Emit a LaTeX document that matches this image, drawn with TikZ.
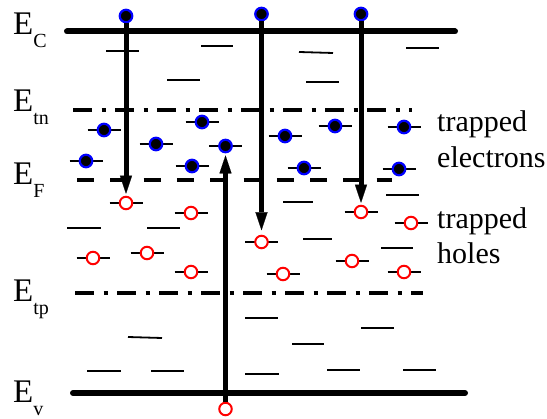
\documentclass[tikz,border=0pt]{standalone}
\usepackage{fontspec}
\setmainfont{Liberation Serif}
\newfontfamily\tnr{Liberation Serif}
\usetikzlibrary{arrows.meta}
\newcommand\bsub[1]{\raisebox{-13pt}{\fontsize{20}{20}\selectfont #1}}
\begin{document}
\begin{tikzpicture}[x=1pt,y=-1pt,
 band/.style={line width=6pt,line cap=round},
 tnline/.style={line width=4pt,dash pattern=on 19pt off 9.5pt on 4pt off 9.5pt},
 efline/.style={line width=4pt,dash pattern=on 17pt off 16.3pt},
 lvl/.style={line width=1.8pt},
 elec/.style={circle,draw=blue,fill=black,line width=2.2pt,minimum size=12.5pt,inner sep=0pt},
 hole/.style={circle,draw=red,fill=white,line width=2pt,minimum size=12.5pt,inner sep=0pt},
 arr/.style={line width=5pt,-{Triangle[length=18pt,width=12pt,line width=0.1pt]},shorten >=2pt},
 elab/.style={anchor=base west,inner sep=0pt,font=\tnr\fontsize{33}{33}\selectfont},
 txt/.style={anchor=base west,inner sep=0pt,font=\tnr\fontsize{30}{30}\selectfont}]
\useasboundingbox (0,0) rectangle (547,419);
% band edges and levels
\draw[band] (67,31.5) -- (455,31.5);
\draw[band] (73,393) -- (465,393);
\draw[tnline] (73,110) -- (412,110);
\draw[efline] (77,180) -- (392,180);
\draw[tnline] (75,293) -- (423,293);
% labels
\node[elab] (lC) at (13,35) {E\bsub{C}};
\node[elab] (ltn) at (13,112) {E\bsub{tn}};
\node[elab] (lF) at (13,185) {E\bsub{F}};
\node[elab] (ltp) at (13,302) {E\bsub{tp}};
\node[elab] (lV) at (13,403) {E\bsub{v}};
% empty trap levels
\foreach \xa/\xb/\ya/\yb in {106/139/51/51, 201/233/46/46, 167/200/80/80, 299/333/52/53,
  306/339/82/82, 406/439/48/48, 283/313/202/202, 386/419/195/195, 67/101/228/228,
  147/180/228/228, 303/332/239/239, 381/413/248/248, 245/278/318/318, 361/394/328/328,
  128/162/337/338, 292/324/344/344, 87/121/371/371, 151/184/371/371, 245/279/374/374,
  327/360/370/370, 403/436/370/370}
  \draw[lvl] (\xa,\ya) -- (\xb,\yb);
% trapped electrons
\foreach \x/\y [count=\i] in {104/130, 202/122, 156/144, 86/161, 192/166, 285/136,
  335/126, 404/127, 304/168, 399/169}{
  \draw[lvl] (\x-16.5,\y) -- (\x+16.5,\y);
  \node[elec] (te\i) at (\x,\y) {};
}
\draw[lvl] (225.5-16.5,146) -- (225.5+16.5,146);
\node[elec] (eT) at (225.5,146) {};
% trapped holes
\foreach \x/\y [count=\i] in {191/213, 93/258, 147/253, 191/272, 411/223, 352/261,
  404/272, 283/274}{
  \draw[lvl] (\x-16.5,\y) -- (\x+16.5,\y);
  \node[hole] (th\i) at (\x,\y) {};
}
\draw[lvl] (126-16.5,203) -- (126+16.5,203);
\node[hole] (h1) at (126,203) {};
\draw[lvl] (261.5-16.5,242) -- (261.5+16.5,242);
\node[hole] (h2) at (261.5,242) {};
\draw[lvl] (361-16.5,212) -- (361+16.5,212);
\node[hole] (h3) at (361,212) {};
\node[hole] (hV) at (225.5,409) {};
% free electrons at E_C
\node[elec] (eC1) at (126,16) {};
\node[elec] (eC2) at (261.5,14) {};
\node[elec] (eC3) at (361,14) {};
% transitions
\draw[arr] (eC1) -- (h1);
\draw[arr,shorten >=4.5pt] (eC2) -- (h2);
\draw[arr] (eC3) -- (h3);
\draw[arr] (hV) -- (eT);
% legend text
\node[txt] (t1) at (437,132) {trapped};
\node[txt] (t2) at (437,168) {electrons};
\node[txt] (t3) at (437,229) {trapped};
\node[txt] (t4) at (437,264) {holes};
\end{tikzpicture}
\end{document}
